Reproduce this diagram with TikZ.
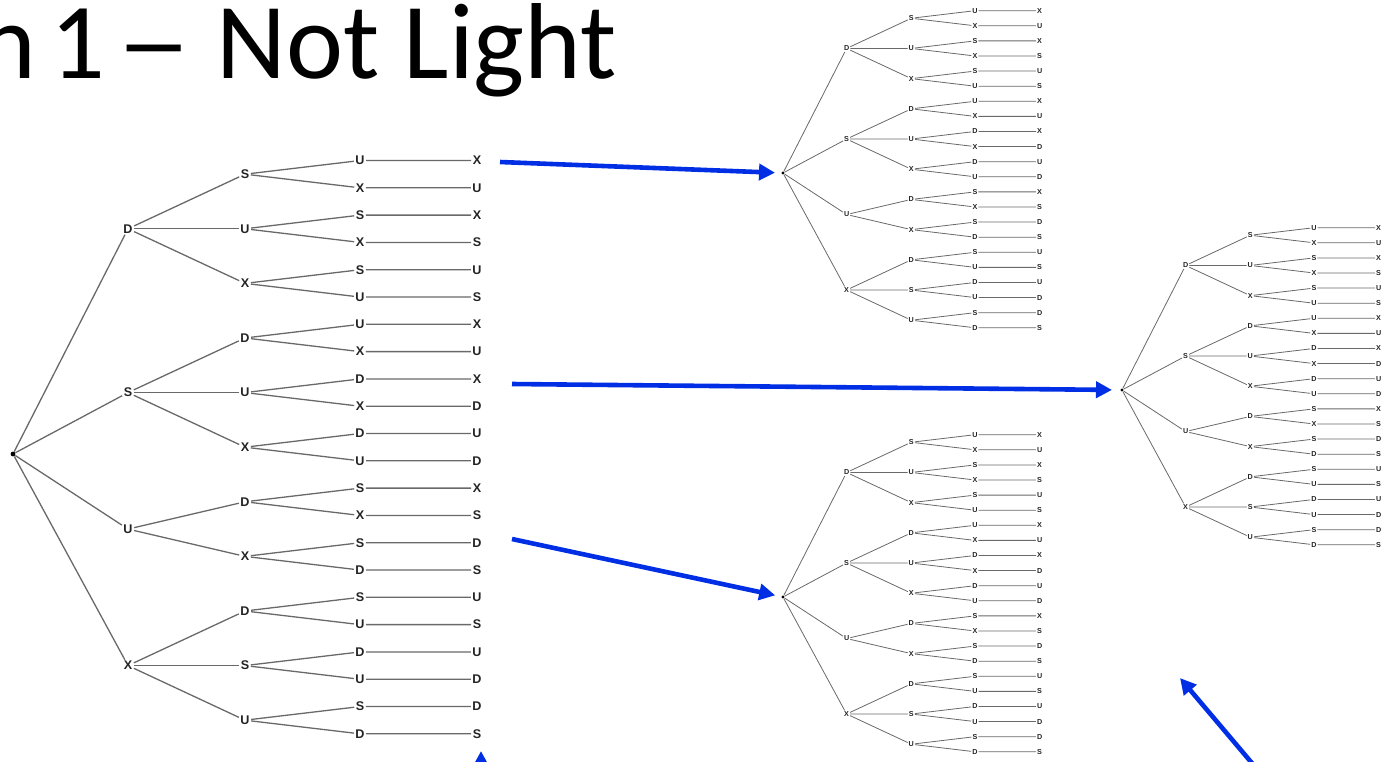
\documentclass[tikz,border=0pt]{standalone}
\usepackage{fontspec}
\setmainfont{Carlito}
\newfontfamily\treefont{Liberation Sans}
\usetikzlibrary{arrows.meta}

\definecolor{arrowblue}{RGB}{0,46,228}
\definecolor{branchgray}{RGB}{105,105,105}
\definecolor{lblgray}{RGB}{35,35,35}

\tikzset{
	lbl/.style={font=\treefont\bfseries\fontsize{6.3}{7}\selectfont, text=lblgray, inner sep=0.6pt},
	branch/.style={draw=branchgray, line width=0.65pt},
	rootdot/.style={circle, fill=black, inner sep=0pt, minimum size=2.4pt},
	bluearrow/.style={draw=arrowblue, line width=2.3pt, -{Triangle[length=8pt, width=8pt]}},
}

% one tree of letter orders, root at the origin, leaves 27.3 apart
\newcommand{\lettertree}{%
	\node[rootdot] (root) at (0,0) {};
	\foreach \a/\i in {D/2.5, S/8.5, U/13.5, X/18.5} {
		\node[lbl] (\a) at (115, {(\i-10.75)*27.3}) {\a};
		\draw[branch] (root) -- (\a);
	}
	\foreach \p/\a/\i in {D/S/0.5, D/U/2.5, D/X/4.5, S/D/6.5, S/U/8.5, S/X/10.5,
			U/D/12.5, U/X/14.5, X/D/16.5, X/S/18.5, X/U/20.5} {
		\node[lbl] (\p\a) at (232, {(\i-10.75)*27.3}) {\a};
		\draw[branch] (\p) -- (\p\a);
	}
	\foreach \p/\a/\b/\i in {DS/U/X/0, DS/X/U/1, DU/S/X/2, DU/X/S/3, DX/S/U/4, DX/U/S/5,
			SD/U/X/6, SD/X/U/7, SU/D/X/8, SU/X/D/9, SX/D/U/10, SX/U/D/11,
			UD/S/X/12, UD/X/S/13, UX/S/D/14, UX/D/S/15,
			XD/S/U/16, XD/U/S/17, XS/D/U/18, XS/U/D/19, XU/S/D/20, XU/D/S/21} {
		\node[lbl] (\p\a) at (347, {(\i-10.75)*27.3}) {\a};
		\node[lbl] (\p\a\b) at (464, {(\i-10.75)*27.3}) {\b};
		\draw[branch] (\p) -- (\p\a) -- (\p\a\b);
	}
}

\begin{document}
\begin{tikzpicture}[x=0.5pt, y=-0.5pt]
	\useasboundingbox (0,0) rectangle (1385,761);

	\node[anchor=base west, font=\fontsize{54}{60}\selectfont] (title) at (-28,78)
		{n\hspace{-0.09em} 1\hspace{-0.12em} \scalebox{1.4}[1]{–} Not Light};

	\begin{scope}[shift={(13,454)}, name prefix=big-]
		\lettertree
	\end{scope}

	\begin{scope}[shift={(783,173)}, scale=0.553, name prefix=top-,
			lbl/.append style={font=\treefont\bfseries\fontsize{3.6}{4}\selectfont, inner sep=0.35pt},
			branch/.append style={line width=0.4pt},
			rootdot/.append style={minimum size=1.6pt}]
		\lettertree
	\end{scope}

	\begin{scope}[shift={(1122,390)}, scale=0.553, name prefix=right-,
			lbl/.append style={font=\treefont\bfseries\fontsize{3.6}{4}\selectfont, inner sep=0.35pt},
			branch/.append style={line width=0.4pt},
			rootdot/.append style={minimum size=1.6pt}]
		\lettertree
	\end{scope}

	\begin{scope}[shift={(783,597)}, scale=0.553, name prefix=low-,
			lbl/.append style={font=\treefont\bfseries\fontsize{3.6}{4}\selectfont, inner sep=0.35pt},
			branch/.append style={line width=0.4pt},
			rootdot/.append style={minimum size=1.6pt}]
		\lettertree
	\end{scope}

	\coordinate (from top) at (500,162);
	\coordinate (from mid) at (512,384);
	\coordinate (from low) at (512,539);
	\coordinate (up start) at (481,800);
	\coordinate (up tip) at (481,751);
	\coordinate (back start) at (1262,775);
	\coordinate (back tip) at (1180,678);

	\draw[bluearrow, shorten >=3pt] (from top) -- (top-root);
	\draw[bluearrow, shorten >=4pt] (from mid) -- (right-root);
	\draw[bluearrow, shorten >=3pt] (from low) -- (low-root);
	\draw[bluearrow] (up start) -- (up tip);
	\draw[bluearrow] (back start) -- (back tip);
\end{tikzpicture}
\end{document}
